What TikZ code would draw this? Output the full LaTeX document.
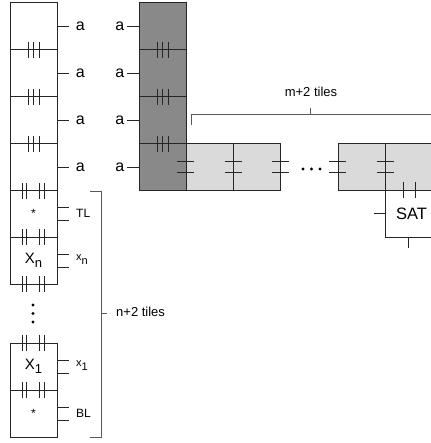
\documentclass[tikz,border=0pt]{standalone}
\usepackage{fontspec}
\setmainfont{Liberation Sans}
\usetikzlibrary{positioning}
\definecolor{tiledark}{HTML}{898989}
\definecolor{tilelight}{HTML}{DADADA}
\tikzset{
    tile/.style={draw=black!85, line width=0.8pt, minimum width=47pt, minimum height=47pt, inner sep=0pt, font=\fontsize{15}{15}\selectfont},
    darktile/.style={tile, fill=tiledark},
    lighttile/.style={tile, fill=tilelight},
    glue/.style={line width=0.8pt, draw=black!85},
    brace/.style={line width=0.8pt, draw=black!65},
    gluelabel/.style={font=\fontsize{16}{16}\selectfont, inner sep=0pt},
    smalllabel/.style={font=\fontsize{12}{12}\selectfont, anchor=west, inner sep=0pt},
    bracelabel/.style={font=\fontsize{13}{13}\selectfont, inner sep=0pt}
}

\begin{document}
\begin{tikzpicture}[x=1pt, y=-1pt]
            \useasboundingbox (0,0) rectangle (430,443);
            % left column
            \node[tile] (a1) at (33.5,26) {};
            \node[tile] (a2) at (33.5,73) {};
            \node[tile] (a3) at (33.5,120) {};
            \node[tile] (a4) at (33.5,167) {};
            \node[tile, font=\fontsize{12}{12}\selectfont] (tl) at (33.5,213.5) {\raisebox{-6pt}{*}};
            \node[tile] (xn) at (33.5,260.5) {X\raisebox{-4pt}{\fontsize{13}{13}\selectfont n}};
            \node[tile] (xone) at (33.5,366.5) {X\raisebox{-4pt}{\fontsize{13}{13}\selectfont 1}};
            \node[tile, font=\fontsize{12}{12}\selectfont] (bl) at (33.5,413.5) {\raisebox{-6pt}{*}};
            
            % dark column
            \node[darktile] (d1) at (162.5,26) {};
            \node[darktile] (d2) at (162.5,73) {};
            \node[darktile] (d3) at (162.5,120) {};
            \node[darktile] (d4) at (162.5,167) {};
            
            % light row and SAT
            \node[lighttile] (l1) at (209.5,167) {};
            \node[lighttile] (l2) at (256.5,167) {};
            \node[lighttile] (l3) at (361.5,167) {};
            \node[lighttile] (l4) at (408.5,167) {};
            \node[tile, font=\fontsize{16.5}{16.5}\selectfont] (sat) at (408.5,213.5) {\hspace*{6pt}SAT};
            
            % a glues
            \foreach \t in {a1,a2,a3,a4}
                \draw[glue] (\t.east) -- ++(12,0) node[gluelabel, anchor=west, xshift=6pt] {a};
            \foreach \t in {d1,d2,d3,d4}
                \draw[glue] (\t.west) -- ++(-12,0) node[gluelabel, anchor=east, xshift=-2pt] {a};
            
            % triple glues
            \foreach \t in {a1,a2,a3,d1,d2,d3}
                \foreach \dx in {-5.5,0,5.5}
                    \draw[glue] ([xshift=\dx pt, yshift=8pt]\t.south) -- ([xshift=\dx pt, yshift=-8pt]\t.south);
            
            % double pair glues
            \foreach \p in {a4.south, tl.south, xn.south, xone.north, xone.south}
                \foreach \dx in {-11.5,-7,6,10.5}
                    \draw[glue] ([xshift=\dx pt, yshift=8pt]\p) -- ([xshift=\dx pt, yshift=-8pt]\p);
            
            % side glues of the seed column
            \foreach \t in {tl,xn,xone,bl}
                \foreach \dy in {-6.5,6.5}
                    \draw[glue] ([yshift=\dy pt]\t.east) -- ++(12,0);
            \node[smalllabel] (ltl) at (76,213.5) {TL};
            \node[smalllabel, font=\fontsize{11}{11}\selectfont] (lxn) at (76,259.5) {x\raisebox{-3.5pt}{n}};
            \node[smalllabel, font=\fontsize{11}{11}\selectfont] (lxone) at (76,365.5) {x\raisebox{-3.5pt}{1}};
            \node[smalllabel] (lbl) at (76,413.5) {BL};
            
            % row glues
            \foreach \p in {l1.west, l1.east, l2.east, l3.west, l3.east}
                \foreach \dy in {-5.5,5.5}
                    \draw[glue] ([xshift=-8.5pt, yshift=\dy pt]\p) -- ([xshift=8.5pt, yshift=\dy pt]\p);
            
            % SAT glues
            \foreach \dx in {-5.5,6.5}
                \draw[glue] ([xshift=\dx pt, yshift=8pt]sat.north) -- ([xshift=\dx pt, yshift=-8pt]sat.north);
            \draw[glue] (sat.west) -- ++(-11,0);
            \draw[glue] (sat.south) -- ++(0,11);
            
            % dots
            \foreach \y in {305,313.5,322}
                \fill (33,\y) circle (1.6);
            \foreach \x in {303,311.5,320}
                \fill (\x,169) circle (1.6);
            
            % brackets
            \draw[brace] (191.7,125) -- (191.7,114) -- (440,114);
            \draw[brace] (310,114) -- (310,108);
            \node[bracelabel] (mtiles) at (311,92) {m+2 tiles};
            \draw[brace] (90,191.7) -- (101.7,191.7) -- (101.7,437) -- (90,437);
            \draw[brace] (101.7,313) -- (106.7,313);
            \node[bracelabel, anchor=west] (ntiles) at (116,312) {n+2 tiles};
        \end{tikzpicture}
\end{document}
